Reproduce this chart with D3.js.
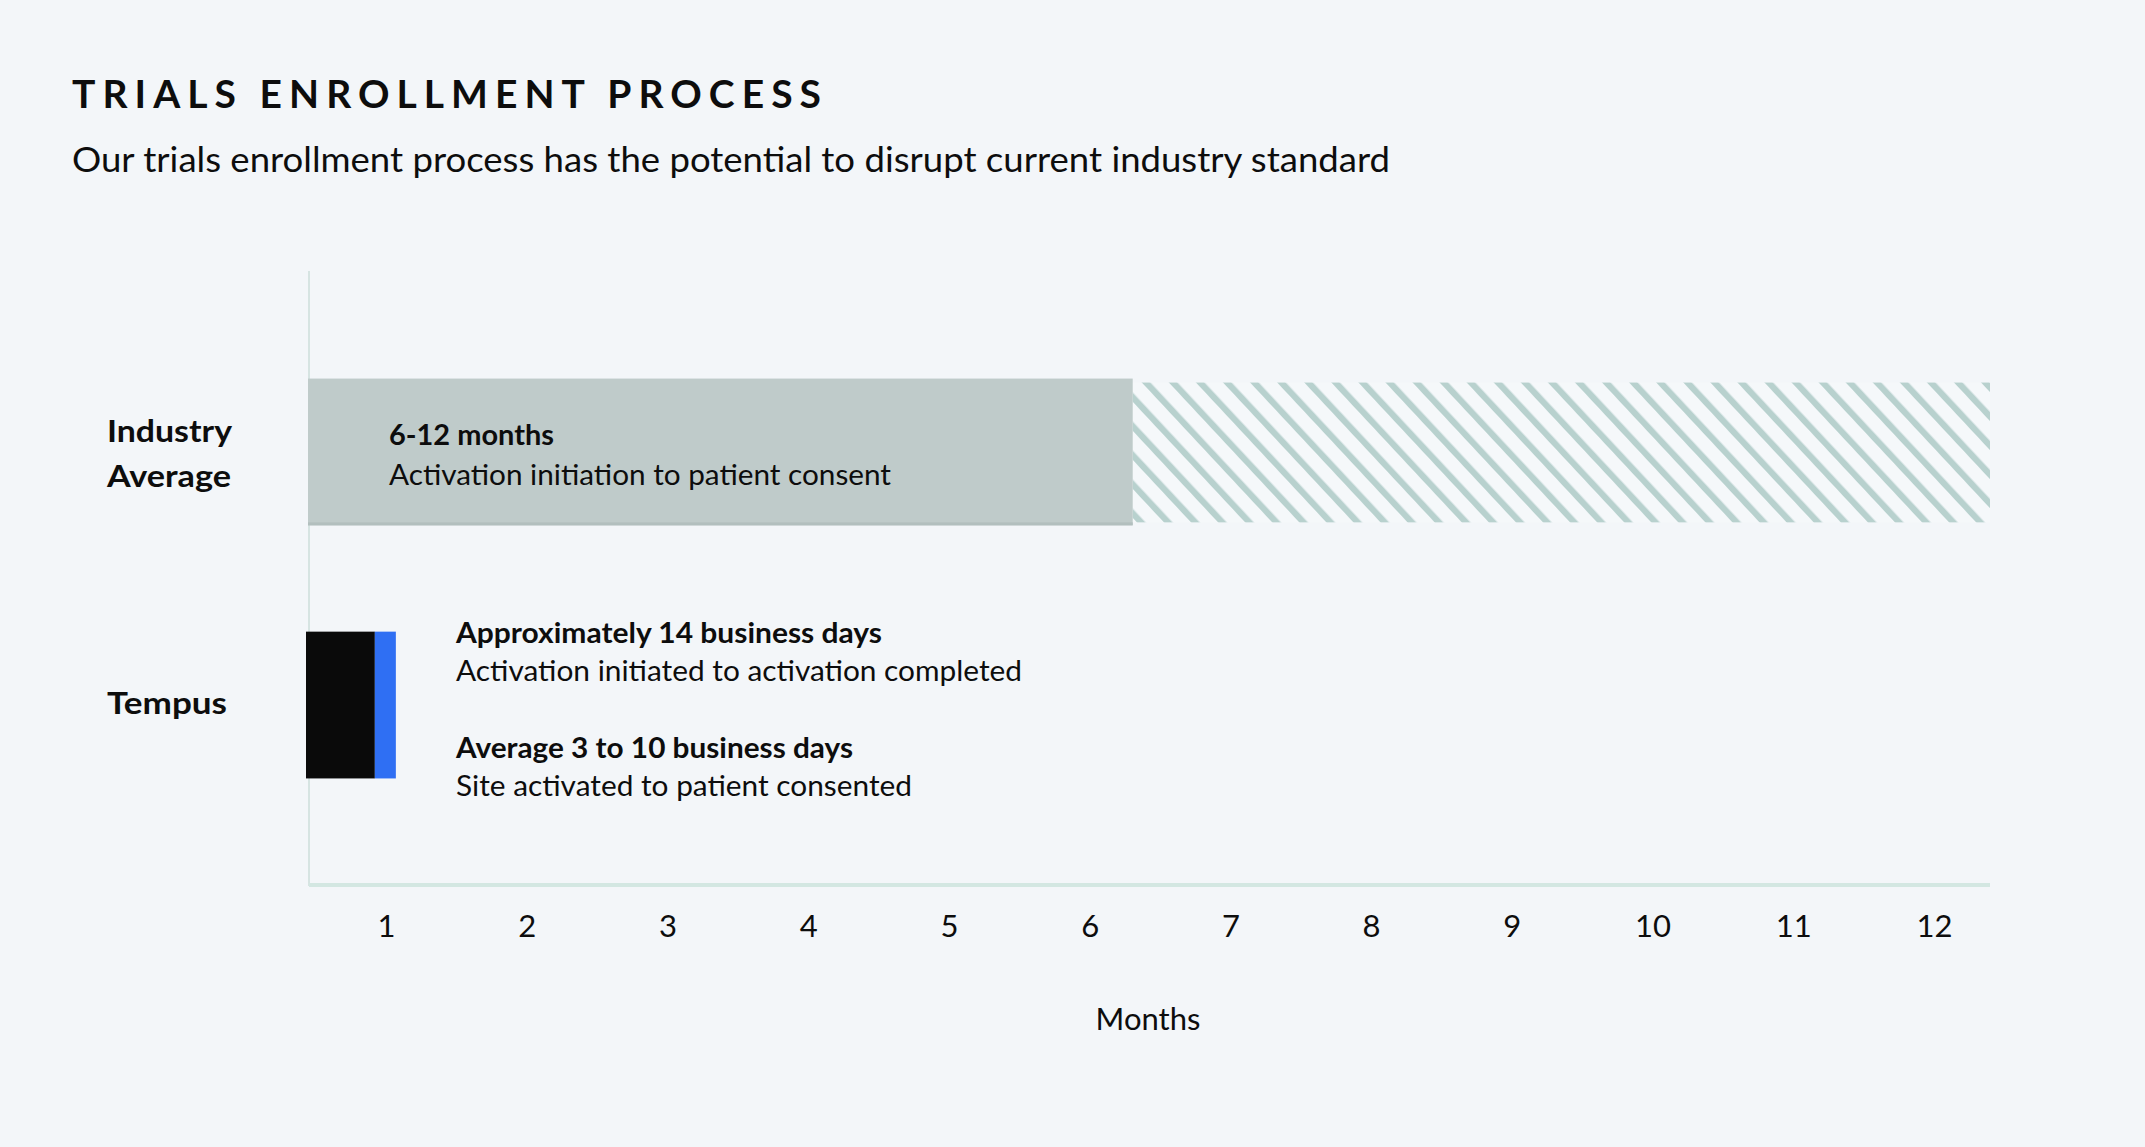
<!DOCTYPE html>
<html>
<head>
<meta charset="utf-8">
<script src="https://cdn.jsdelivr.net/npm/d3@7"></script>
<style>
  html, body { margin: 0; padding: 0; background: #f3f6f9; }
  svg { display: block; }
  text { font-family: "Lato", "Open Sans", sans-serif; fill: #0d0d0d; }
</style>
</head>
<body>
<svg id="chart" width="2145" height="1147"></svg>
<script>
// ---------- data ----------
const titleText = "TRIALS ENROLLMENT PROCESS";
const subtitleText = "Our trials enrollment process has the potential to disrupt current industry standard";
const categories = ["Industry Average", "Tempus"];
const categoryLines = [["Industry", "Average"], ["Tempus"]];
const monthTicks = [1, 2, 3, 4, 5, 6, 7, 8, 9, 10, 11, 12];
const axisTitle = "Months";
// Industry average: solid part (lower bound) and hatched part (up to upper bound), in months
const industryLow = [0, 5.88];
const industryHigh = [5.88, 12];
// Tempus segments, in months: activation (black) then consent (blue)
const tempusSegmentNames = ["activation", "consent"];
const tempusSegmentValues = [0.47, 0.15];
const industryNotes = ["6-12 months", "Activation initiation to patient consent"];
const tempusNotes = [
  "Approximately 14 business days",
  "Activation initiated to activation completed",
  "Average 3 to 10 business days",
  "Site activated to patient consented"
];

// ---------- layout ----------
const svg = d3.select("#chart");
const plotLeft = 309, plotRight = 1990, plotTop = 271, plotBottom = 886;

const x = d3.scaleLinear().domain([0, 12]).range([plotLeft, plotRight]);
const y = d3.scaleBand().domain(categories).range([plotTop, plotBottom])
  .paddingInner(0.42).paddingOuter(0.425);

function fit(sel, w, mode) {
  sel.attr("textLength", w).attr("lengthAdjust", mode || "spacingAndGlyphs");
  return sel;
}

// pattern for hatch
const defs = svg.append("defs");
const pat = defs.append("pattern")
  .attr("id", "hatch")
  .attr("patternUnits", "userSpaceOnUse")
  .attr("width", 19.8).attr("height", 19.8)
  .attr("patternTransform", "rotate(-43)");
pat.append("rect").attr("width", 19.8).attr("height", 19.8).attr("fill", "#f5f8fa");
pat.append("rect").attr("x", 0).attr("y", 0).attr("width", 6.3).attr("height", 19.8).attr("fill", "#b8d1ce");

// title & subtitle
fit(svg.append("text").attr("x", 72).attr("y", 108)
  .attr("font-family", "Open Sans").attr("font-weight", 700).attr("font-size", 39)
  .text(titleText), 749, "spacing");
fit(svg.append("text").attr("x", 72).attr("y", 172)
  .attr("font-size", 35).attr("font-weight", 400)
  .text(subtitleText), 1318);

// y axis line
svg.append("line")
  .attr("x1", plotLeft).attr("x2", plotLeft)
  .attr("y1", plotTop).attr("y2", plotBottom)
  .attr("stroke", "#d6e4e2").attr("stroke-width", 2);

// Industry bars
const yInd = y(categories[0]), bw = y.bandwidth();
svg.append("rect")
  .attr("x", x(industryHigh[0])).attr("width", x(industryHigh[1]) - x(industryHigh[0]))
  .attr("y", yInd + 4).attr("height", bw - 7)
  .attr("fill", "url(#hatch)");
svg.append("rect")
  .attr("x", x(industryLow[0]) - 1).attr("width", x(industryLow[1]) - x(industryLow[0]) + 1)
  .attr("y", yInd).attr("height", bw)
  .attr("fill", "#bfcbca");
svg.append("rect")
  .attr("x", x(industryLow[0]) - 1).attr("width", x(industryLow[1]) - x(industryLow[0]) + 1)
  .attr("y", yInd + bw - 3).attr("height", 3)
  .attr("fill", "#b2bfbe");

// Tempus bars
const yTem = y(categories[1]);
const tempusColors = d3.scaleOrdinal().domain(tempusSegmentNames).range(["#0a0a0a", "#2f6ff3"]);
let acc = 0;
const tempusStack = tempusSegmentValues.map((v, i) => {
  const s = { name: tempusSegmentNames[i], start: acc, end: acc + v };
  acc += v; return s;
});
svg.selectAll("rect.tempus").data(tempusStack).enter().append("rect")
  .attr("class", "tempus")
  .attr("x", d => x(d.start) - (d.start === 0 ? 3 : 0))
  .attr("width", d => x(d.end) - x(d.start) + (d.start === 0 ? 3 : 0))
  .attr("y", yTem).attr("height", bw)
  .attr("fill", d => tempusColors(d.name));

// x axis line
svg.append("line")
  .attr("x1", plotLeft).attr("x2", plotRight)
  .attr("y1", 885).attr("y2", 885)
  .attr("stroke", "#d3e7e2").attr("stroke-width", 4);

// x tick labels via axis
const xTicks = d3.scalePoint().domain(monthTicks).range([x(0.55), x(11.6)]);
const axisG = svg.append("g").attr("transform", "translate(0,885)")
  .call(d3.axisBottom(xTicks).tickSize(0).tickPadding(0));
axisG.select(".domain").remove();
axisG.selectAll("text")
  .attr("y", 52).attr("dy", 0)
  .attr("font-family", "Lato").attr("font-size", 31).attr("fill", "#0d0d0d");

// axis title
svg.append("text").attr("x", 1148).attr("y", 1030).attr("text-anchor", "middle")
  .attr("font-size", 31).text(axisTitle);

// category labels
const catG = svg.append("g");
categoryLines[0].forEach((t, i) => {
  catG.append("text").attr("x", 107).attr("y", yInd + 63 + i * 45)
    .attr("font-weight", 700).attr("font-size", 31).text(t);
});
catG.append("text").attr("x", 107).attr("y", yTem + 82)
  .attr("font-weight", 700).attr("font-size", 31).text(categoryLines[1][0]);
fit(catG.selectAll("text").filter((d, i) => i === 0), 125);
fit(catG.selectAll("text").filter((d, i) => i === 1), 124);
fit(catG.selectAll("text").filter((d, i) => i === 2), 120);

// notes in industry bar
fit(svg.append("text").attr("x", x(0) + 80).attr("y", yInd + 66)
  .attr("font-weight", 700).attr("font-size", 28).text(industryNotes[0]), 165);
fit(svg.append("text").attr("x", x(0) + 80).attr("y", yInd + 106)
  .attr("font-size", 28).text(industryNotes[1]), 502);

// tempus notes
const tnY = [11, 49, 126, 164];
const tnW = [426, 566, 397, 456];
tempusNotes.forEach((t, i) => {
  fit(svg.append("text").attr("x", x(0) + 147).attr("y", yTem + tnY[i])
    .attr("font-weight", i % 2 === 0 ? 700 : 400)
    .attr("font-size", 28).text(t), tnW[i]);
});
</script>
</body>
</html>
